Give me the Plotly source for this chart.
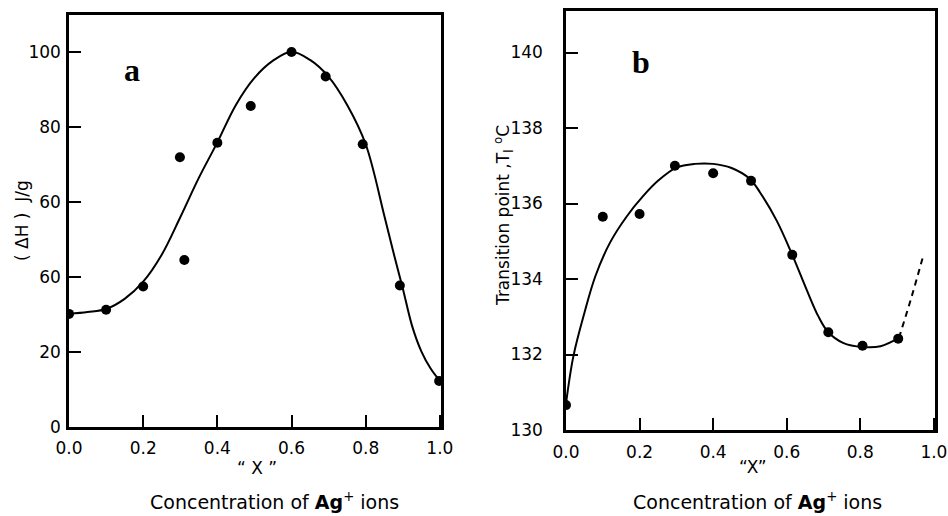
import plotly.graph_objects as go

# ---- Panel a data ----
a_x = [0.0, 0.1, 0.2, 0.299, 0.311, 0.4, 0.49, 0.6, 0.692, 0.792, 0.892, 0.998]
a_y = [30.2, 31.3, 37.5, 72.0, 44.6, 75.9, 85.7, 100.1, 93.6, 75.5, 37.8, 12.3]
a_curve_x = [0.0, 0.05, 0.1, 0.15, 0.2, 0.25, 0.3, 0.35, 0.4, 0.45, 0.5, 0.55,
             0.6, 0.65, 0.7, 0.75, 0.8, 0.85, 0.875, 0.9, 0.925, 0.95, 0.975, 1.0]
a_curve_y = [30.2, 30.7, 31.5, 34.2, 38.8, 46.0, 56.0, 66.5, 76.0, 86.0, 93.2, 97.8,
             100.2, 98.0, 93.5, 86.0, 75.5, 56.5, 46.5, 37.0, 27.0, 20.2, 15.6, 12.3]
a_yticks = [0, 20, 40, 60, 80, 100]
a_yticktext = ["0", "20", "60", "60", "80", "100"]
x_ticks = [0.0, 0.2, 0.4, 0.6, 0.8, 1.0]

# ---- Panel b data ----
b_x = [0.0, 0.1, 0.2, 0.296, 0.40, 0.503, 0.615, 0.713, 0.806, 0.903]
b_y = [130.66, 135.65, 135.72, 137.0, 136.8, 136.6, 134.64, 132.59, 132.23, 132.42]
b_curve_x = [0.0, 0.02, 0.05, 0.08, 0.12, 0.166, 0.21, 0.25, 0.3, 0.35, 0.4, 0.45,
             0.5, 0.527, 0.573, 0.615, 0.654, 0.686, 0.713, 0.753, 0.806, 0.855, 0.905]
b_curve_y = [130.7, 131.95, 133.1, 134.08, 134.97, 135.67, 136.2, 136.6, 136.95,
             137.05, 137.05, 136.94, 136.65, 136.3, 135.54, 134.64, 133.72, 133.01,
             132.59, 132.31, 132.2, 132.22, 132.44]
b_dash_x = [0.905, 0.94, 0.972]
b_dash_y = [132.44, 133.55, 134.65]
b_yticks = [130, 132, 134, 136, 138, 140]

W, H = 948, 516
def px(x):
    return x / W
def py(y):
    return 1 - y / H

fig = go.Figure()
line = dict(color="black", width=2)
mk = dict(color="black", size=10)

fig.add_trace(go.Scatter(x=a_curve_x, y=a_curve_y, mode="lines", line=dict(**line, shape="spline"),
                         xaxis="x", yaxis="y", hoverinfo="skip"))
fig.add_trace(go.Scatter(x=a_x, y=a_y, mode="markers", marker=mk, xaxis="x", yaxis="y"))

fig.add_trace(go.Scatter(x=b_curve_x, y=b_curve_y, mode="lines", line=dict(**line, shape="spline"),
                         xaxis="x2", yaxis="y2", hoverinfo="skip"))
fig.add_trace(go.Scatter(x=b_dash_x, y=b_dash_y, mode="lines",
                         line=dict(color="black", width=2, dash="6px,5px", shape="spline"),
                         xaxis="x2", yaxis="y2", hoverinfo="skip"))
fig.add_trace(go.Scatter(x=b_x, y=b_y, mode="markers", marker=mk, xaxis="x2", yaxis="y2"))

font = dict(family="DejaVu Sans", size=17, color="black")
axis_common = dict(showline=True, linecolor="black", linewidth=2.5, mirror=True,
                   ticks="inside", ticklen=12, tickwidth=1.5, tickcolor="black",
                   showgrid=False, zeroline=False, tickfont=font, automargin=False)

fig.update_layout(
    width=W, height=H, margin=dict(l=0, r=0, t=0, b=0, autoexpand=False),
    paper_bgcolor="white", plot_bgcolor="white", showlegend=False,
    xaxis=dict(domain=[px(69), px(441)], range=[0, 1.003], anchor="y",
               tickvals=x_ticks, tickformat=".1f", ticklabelstandoff=4, **axis_common),
    yaxis=dict(domain=[py(427), py(15)], range=[0, 110], anchor="x",
               tickvals=a_yticks, ticktext=a_yticktext, ticklabelstandoff=2, **axis_common),
    xaxis2=dict(domain=[px(566), px(935)], range=[0, 1.003], anchor="y2",
                tickvals=x_ticks, tickformat=".1f", ticklabelstandoff=5, **axis_common),
    yaxis2=dict(domain=[py(430), py(11)], range=[130, 141.1], anchor="x2",
                tickvals=b_yticks, ticklabelstandoff=17, **axis_common),
)

ann = []
def add(text, x, y, size=16, angle=0, family="DejaVu Sans"):
    ann.append(dict(text=text, x=px(x), y=py(y), xref="paper", yref="paper",
                    showarrow=False, textangle=angle, xanchor="center", yanchor="middle",
                    font=dict(family=family, size=size, color="black")))

add("<b>a</b>", 132, 70, size=32, family="Liberation Serif")
add("<b>b</b>", 641, 62, size=32, family="Liberation Serif")
add("( ΔH )  J/g", 22, 221, size=17, angle=-90)
add("Transition point ,T<sub>l</sub> <sup>o</sup>C", 503, 216, size=17, angle=-90)
add("\u201c X \u201d", 257, 468, size=17)
add("\u201cX\u201d", 753, 467, size=17)
add("Concentration of <b>Ag</b><sup>+</sup> ions", 274, 501, size=19)
add("Concentration of <b>Ag</b><sup>+</sup> ions", 757, 501, size=19)
fig.update_layout(annotations=ann)

fig.write_html("out.html")
